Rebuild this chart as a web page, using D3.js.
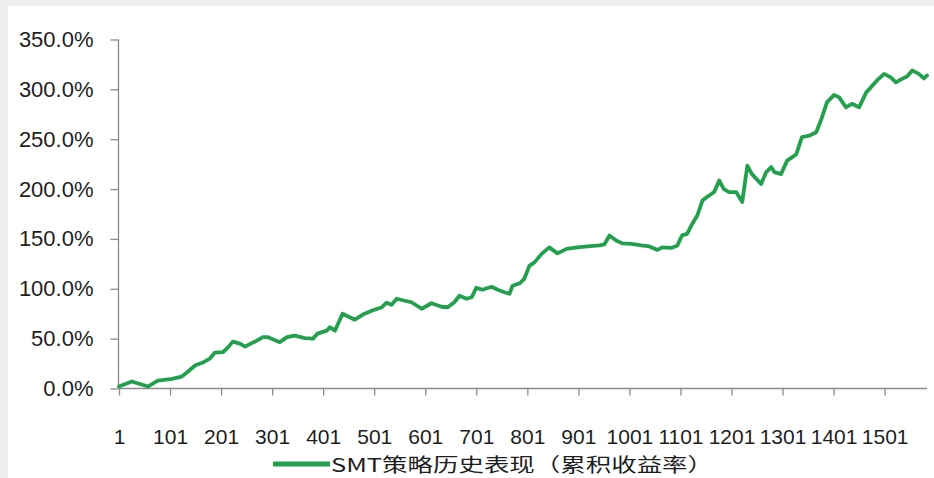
<!DOCTYPE html>
<html>
<head>
<meta charset="utf-8">
<script src="https://cdn.jsdelivr.net/npm/d3@7"></script>
<style>
  body { margin:0; background:#efefef; }
  svg { display:block; }
</style>
</head>
<body>
<div id="chart"></div>
<script>
// trading day index (category) and cumulative return in percent
var days=[1,26,58,77,105,124,134,150,165,179,189,205,214,224,238,248,261,271,283,
  293,316,330,345,365,381,390,408,414,424,439,453,463,482,496,516,525,535,545,
  561,574,594,613,633,645,658,668,682,692,701,713,731,743,756,766,772,786,795,805,815,
  829,844,860,878,899,919,942,952,962,975,987,1005,1024,1040,1056,1065,1083,1095,1104,
  1114,1124,1134,1144,1153,1167,1177,1186,1196,1210,1222,1232,1241,1259,1269,1279,1285,1298,1310,1320,1328,1339,1353,1367,
  1377,1388,1402,1412,1425,1437,1451,1465,1474,1486,1500,1513,1523,1535,1545,1555,1568,1578,1584];
var cumReturn=[2,7,2,8,9.7,12,16,23,26,30,36,36.5,41,47,45,42,45.5,48,51.5,
  51.5,46.5,51.5,53,50.5,50,55,58,61.5,58,75,71.5,69,75,78,81.5,86,84,90,
  88,86.5,80,85.5,82,81.5,86.5,93,90,91.5,101,99,102,99,96.5,95,103,105.5,110,123,126.5,
  135,141.5,135.5,140,141.5,142.5,143.5,144.5,153.5,148.5,145.5,145,143.5,142.5,139,141.5,141,143.5,153.5,
  155,165,173.5,188.5,192,197,208.5,200,197,197,187,223.5,215,205,217,222,217,215,228.5,232,235,252,253.5,257,
  270,287,294.5,292,282,285.5,282,297,302,309,315.5,312,307,310.5,313,319,315.5,311,314];
var xTicks=[1,101,201,301,401,501,601,701,801,901,1001,1101,1201,1301,1401,1501];
var yTicks=[0,50,100,150,200,250,300,350];
var lastDay=1584;
var seriesName='SMT策略历史表现（累积收益率）';

var width=934, height=478;
var lineColor='#22a04d';
var axisColor='#8a8a8a';
var fontFam='"Liberation Sans", Arial, "Noto Sans CJK SC", sans-serif';

var svg=d3.select('#chart').append('svg')
  .attr('width',width)
  .attr('height',height);

// white panel, thin grey edge on left/top like the screenshot
svg.append('rect').attr('x',8).attr('y',6).attr('width',width-8).attr('height',height-6).attr('fill','#ffffff');

var x=d3.scaleLinear().domain([1,lastDay]).range([119,927]);
var y=d3.scaleLinear().domain([0,350]).range([388.5,39.5]);

var yAxis=d3.axisLeft(y)
  .tickValues(yTicks)
  .tickSize(8)
  .tickSizeOuter(0)
  .tickPadding(17)
  .tickFormat(function(d){return d.toFixed(1)+'%';});

var gy=svg.append('g').attr('transform','translate(118.5,0)').call(yAxis);

var xAxis=d3.axisBottom(x)
  .tickValues(xTicks)
  .tickSize(7)
  .tickSizeOuter(0)
  .tickPadding(34)
  .tickFormat(function(d){return d;});

var gx=svg.append('g').attr('transform','translate(0,388.5)').call(xAxis);

[gx,gy].forEach(function(g){
  g.select('.domain').attr('stroke',axisColor).attr('stroke-width',1.3);
  g.selectAll('.tick line').attr('stroke',axisColor).attr('stroke-width',1.3);
  g.selectAll('.tick text')
    .attr('fill','#1e1e1e')
    .style('font-family',fontFam)
    .style('font-size','22px');
});
gx.selectAll('.tick text').style('font-size','21px');
gy.select('.domain').attr('d','M0,'+y(350)+'V'+y(0));
gx.select('.domain').attr('d','M'+x(1)+',0H'+x(lastDay));

var data=days.map(function(d,i){return {day:d,v:cumReturn[i]};});

var line=d3.line()
  .x(function(d){return x(d.day);})
  .y(function(d){return y(d.v);});

svg.append('path')
  .datum(data)
  .attr('d',line)
  .attr('fill','none')
  .attr('stroke',lineColor)
  .attr('stroke-width',3.8)
  .attr('stroke-linejoin','round')
  .attr('stroke-linecap','round');

// legend
var lg=svg.append('g');
lg.append('line')
  .attr('x1',273).attr('x2',330)
  .attr('y1',464).attr('y2',464)
  .attr('stroke',lineColor)
  .attr('stroke-width',5);
lg.append('text')
  .attr('x',331)
  .attr('y',472)
  .attr('textLength',382)
  .attr('lengthAdjust','spacingAndGlyphs')
  .attr('fill','#1e1e1e')
  .style('font-family','"Noto Sans CJK SC", sans-serif')
  .style('font-size','19px')
  .text(seriesName);
</script>
</body>
</html>
